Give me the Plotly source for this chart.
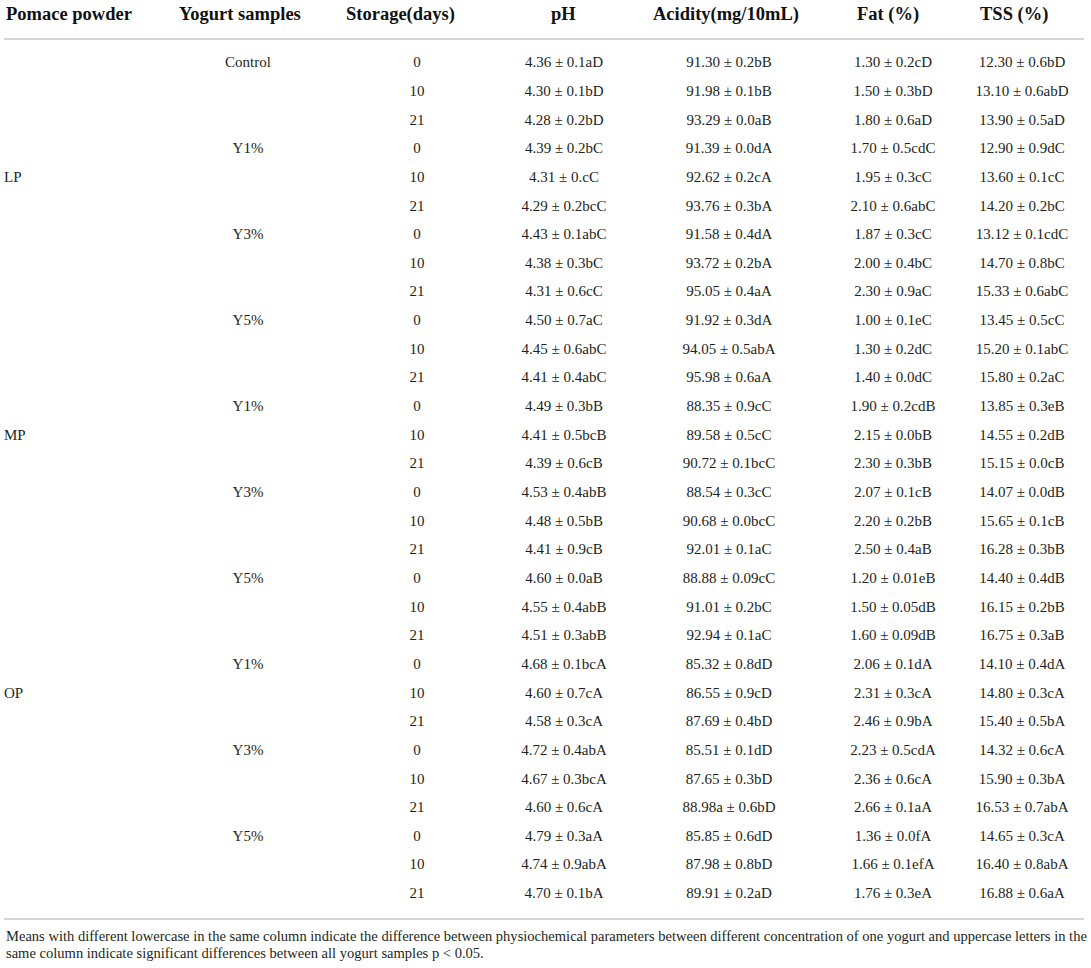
import plotly.graph_objects as go

# Table contents
headers = ["Pomace powder", "Yogurt samples", "Storage(days)", "pH",
           "Acidity(mg/10mL)", "Fat (%)", "TSS (%)"]

pomace = ["", "", "", "", "LP", "", "", "", "", "", "", "",
          "", "MP", "", "", "", "", "", "", "",
          "", "OP", "", "", "", "", "", "", ""]

samples = ["Control", "", "", "Y1%", "", "", "Y3%", "", "", "Y5%", "", "",
           "Y1%", "", "", "Y3%", "", "", "Y5%", "", "",
           "Y1%", "", "", "Y3%", "", "", "Y5%", "", ""]

days = ["0", "10", "21"] * 10

ph = ["4.36 ± 0.1aD", "4.30 ± 0.1bD", "4.28 ± 0.2bD",
      "4.39 ± 0.2bC", "4.31 ± 0.cC", "4.29 ± 0.2bcC",
      "4.43 ± 0.1abC", "4.38 ± 0.3bC", "4.31 ± 0.6cC",
      "4.50 ± 0.7aC", "4.45 ± 0.6abC", "4.41 ± 0.4abC",
      "4.49 ± 0.3bB", "4.41 ± 0.5bcB", "4.39 ± 0.6cB",
      "4.53 ± 0.4abB", "4.48 ± 0.5bB", "4.41 ± 0.9cB",
      "4.60 ± 0.0aB", "4.55 ± 0.4abB", "4.51 ± 0.3abB",
      "4.68 ± 0.1bcA", "4.60 ± 0.7cA", "4.58 ± 0.3cA",
      "4.72 ± 0.4abA", "4.67 ± 0.3bcA", "4.60 ± 0.6cA",
      "4.79 ± 0.3aA", "4.74 ± 0.9abA", "4.70 ± 0.1bA"]

acidity = ["91.30 ± 0.2bB", "91.98 ± 0.1bB", "93.29 ± 0.0aB",
           "91.39 ± 0.0dA", "92.62 ± 0.2cA", "93.76 ± 0.3bA",
           "91.58 ± 0.4dA", "93.72 ± 0.2bA", "95.05 ± 0.4aA",
           "91.92 ± 0.3dA", "94.05 ± 0.5abA", "95.98 ± 0.6aA",
           "88.35 ± 0.9cC", "89.58 ± 0.5cC", "90.72 ± 0.1bcC",
           "88.54 ± 0.3cC", "90.68 ± 0.0bcC", "92.01 ± 0.1aC",
           "88.88 ± 0.09cC", "91.01 ± 0.2bC", "92.94 ± 0.1aC",
           "85.32 ± 0.8dD", "86.55 ± 0.9cD", "87.69 ± 0.4bD",
           "85.51 ± 0.1dD", "87.65 ± 0.3bD", "88.98a ± 0.6bD",
           "85.85 ± 0.6dD", "87.98 ± 0.8bD", "89.91 ± 0.2aD"]

fat = ["1.30 ± 0.2cD", "1.50 ± 0.3bD", "1.80 ± 0.6aD",
       "1.70 ± 0.5cdC", "1.95 ± 0.3cC", "2.10 ± 0.6abC",
       "1.87 ± 0.3cC", "2.00 ± 0.4bC", "2.30 ± 0.9aC",
       "1.00 ± 0.1eC", "1.30 ± 0.2dC", "1.40 ± 0.0dC",
       "1.90 ± 0.2cdB", "2.15 ± 0.0bB", "2.30 ± 0.3bB",
       "2.07 ± 0.1cB", "2.20 ± 0.2bB", "2.50 ± 0.4aB",
       "1.20 ± 0.01eB", "1.50 ± 0.05dB", "1.60 ± 0.09dB",
       "2.06 ± 0.1dA", "2.31 ± 0.3cA", "2.46 ± 0.9bA",
       "2.23 ± 0.5cdA", "2.36 ± 0.6cA", "2.66 ± 0.1aA",
       "1.36 ± 0.0fA", "1.66 ± 0.1efA", "1.76 ± 0.3eA"]

tss = ["12.30 ± 0.6bD", "13.10 ± 0.6abD", "13.90 ± 0.5aD",
       "12.90 ± 0.9dC", "13.60 ± 0.1cC", "14.20 ± 0.2bC",
       "13.12 ± 0.1cdC", "14.70 ± 0.8bC", "15.33 ± 0.6abC",
       "13.45 ± 0.5cC", "15.20 ± 0.1abC", "15.80 ± 0.2aC",
       "13.85 ± 0.3eB", "14.55 ± 0.2dB", "15.15 ± 0.0cB",
       "14.07 ± 0.0dB", "15.65 ± 0.1cB", "16.28 ± 0.3bB",
       "14.40 ± 0.4dB", "16.15 ± 0.2bB", "16.75 ± 0.3aB",
       "14.10 ± 0.4dA", "14.80 ± 0.3cA", "15.40 ± 0.5bA",
       "14.32 ± 0.6cA", "15.90 ± 0.3bA", "16.53 ± 0.7abA",
       "14.65 ± 0.3cA", "16.40 ± 0.8abA", "16.88 ± 0.6aA"]

footnote = ["Means with different lowercase in the same column indicate the difference between "
            "physiochemical parameters between different concentration of one yogurt and uppercase "
            "letters in the",
            "same column indicate significant differences between all yogurt samples p < 0.05."]

# axes in window pixels (x) and row units (y)
W, H = 1091, 968
ROW0, STEP = 63.5, 28.65


def ypix(p):
    return (p - ROW0) / STEP


FONT = "Liberation Serif"
TXT = "#231f20"
header_x = [4, 240, 400, 563, 726, 888, 1014]
col_x = [4, 248, 417, 564, 729, 893, 1022]

rows = list(range(len(days)))
fig = go.Figure()

# left-aligned pomace column
fig.add_trace(go.Scatter(
    x=[col_x[0]] * len(rows), y=rows, text=pomace, mode="text",
    textposition="middle right", hoverinfo="skip", showlegend=False,
    textfont=dict(family=FONT, size=15, color=TXT)))

for cx, col in zip(col_x[1:], [samples, days, ph, acidity, fat, tss]):
    fig.add_trace(go.Scatter(
        x=[cx] * len(rows), y=rows, text=col, mode="text",
        textposition="middle center", hoverinfo="skip", showlegend=False,
        textfont=dict(family=FONT, size=15, color=TXT)))

annotations = []
for i, (hx, h) in enumerate(zip(header_x, headers)):
    annotations.append(dict(
        x=hx, y=ypix(14), xref="x", yref="y", text="<b>" + h + "</b>",
        showarrow=False, xanchor="left" if i == 0 else "center", yanchor="middle",
        font=dict(family=FONT, size=18.5, color="#111")))

for line, p in zip(footnote, [936, 953]):
    annotations.append(dict(
        x=4, y=ypix(p), xref="x", yref="y", text=line, showarrow=False,
        xanchor="left", yanchor="middle",
        font=dict(family=FONT, size=14.55, color=TXT)))

shapes = []
for p in [39, 919]:
    shapes.append(dict(type="line", xref="x", yref="y", x0=4, x1=1084,
                       y0=ypix(p), y1=ypix(p),
                       line=dict(color="#d4d4d4", width=2)))

fig.update_layout(
    width=W, height=H,
    margin=dict(l=0, r=0, t=0, b=0),
    paper_bgcolor="white", plot_bgcolor="white",
    xaxis=dict(range=[0, W], visible=False, fixedrange=True),
    yaxis=dict(range=[ypix(H), ypix(0)], visible=False, fixedrange=True),
    annotations=annotations, shapes=shapes,
)

# drop the default body margin so the figure fills the window
fig.write_html("out.html", config={"displayModeBar": False},
               post_script="document.body.style.margin='0';")
